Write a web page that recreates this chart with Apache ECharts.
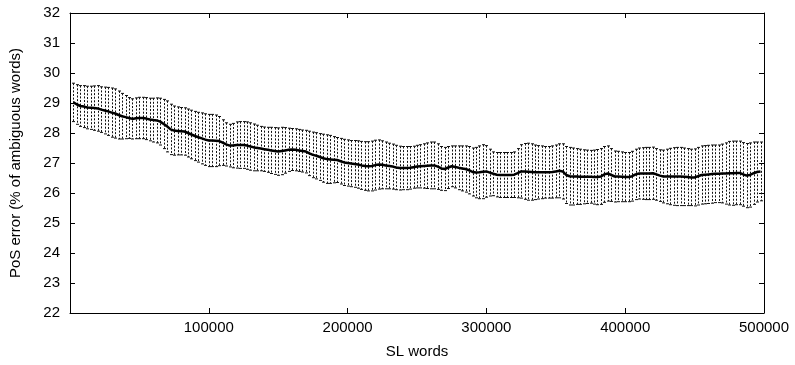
<!DOCTYPE html>
<html>
<head>
<meta charset="utf-8">
<script src="https://cdn.jsdelivr.net/npm/echarts@6/dist/echarts.min.js"></script>
<style>
html,body{margin:0;padding:0;background:#fff;}
#chart{width:795px;height:365px;}
</style>
</head>
<body>
<div id="chart"></div>
<script>
// SL words (x positions of the samples)
const slWords = [
2500,5000,7500,10000,12500,15000,17500,20000,22500,25000,
27500,30000,32500,35000,37500,40000,42500,45000,47500,50000,
52500,55000,57500,60000,62500,65000,67500,70000,72500,75000,
77500,80000,82500,85000,87500,90000,92500,95000,97500,100000,
102500,105000,107500,110000,112500,115000,117500,120000,122500,125000,
127500,130000,132500,135000,137500,140000,142500,145000,147500,150000,
152500,155000,157500,160000,162500,165000,167500,170000,172500,175000,
177500,180000,182500,185000,187500,190000,192500,195000,197500,200000,
202500,205000,207500,210000,212500,215000,217500,220000,222500,225000,
227500,230000,232500,235000,237500,240000,242500,245000,247500,250000,
252500,255000,257500,260000,262500,265000,267500,270000,272500,275000,
277500,280000,282500,285000,287500,290000,292500,295000,297500,300000,
302500,305000,307500,310000,312500,315000,317500,320000,322500,325000,
327500,330000,332500,335000,337500,340000,342500,345000,347500,350000,
352500,355000,357500,360000,362500,365000,367500,370000,372500,375000,
377500,380000,382500,385000,387500,390000,392500,395000,397500,400000,
402500,405000,407500,410000,412500,415000,417500,420000,422500,425000,
427500,430000,432500,435000,437500,440000,442500,445000,447500,450000,
452500,455000,457500,460000,462500,465000,467500,470000,472500,475000,
477500,480000,482500,485000,487500,490000,492500,495000,497500
];

// mean PoS error (%)
const posError = [
29.02,28.95,28.90,28.88,28.85,28.84,28.83,28.82,28.78,28.75,
28.72,28.68,28.65,28.60,28.56,28.53,28.50,28.47,28.49,28.50,
28.50,28.48,28.45,28.43,28.42,28.38,28.30,28.22,28.12,28.08,
28.07,28.06,28.05,28.00,27.95,27.90,27.86,27.82,27.78,27.75,
27.75,27.74,27.73,27.68,27.62,27.58,27.58,27.60,27.60,27.60,
27.58,27.55,27.52,27.50,27.48,27.46,27.44,27.42,27.40,27.38,
27.40,27.42,27.44,27.45,27.44,27.42,27.40,27.38,27.32,27.27,
27.24,27.20,27.16,27.13,27.12,27.11,27.10,27.06,27.02,27.00,
26.98,26.97,26.95,26.92,26.90,26.89,26.90,26.93,26.95,26.94,
26.92,26.90,26.88,26.85,26.83,26.83,26.83,26.84,26.86,26.88,
26.89,26.90,26.91,26.92,26.92,26.88,26.82,26.80,26.85,26.89,
26.87,26.84,26.82,26.80,26.76,26.70,26.68,26.69,26.71,26.72,
26.68,26.64,26.61,26.60,26.60,26.60,26.60,26.61,26.66,26.72,
26.72,26.71,26.70,26.69,26.69,26.69,26.69,26.69,26.70,26.72,
26.74,26.72,26.60,26.56,26.55,26.55,26.54,26.54,26.54,26.54,
26.53,26.53,26.55,26.62,26.65,26.60,26.55,26.55,26.54,26.53,
26.53,26.56,26.62,26.65,26.65,26.65,26.65,26.66,26.62,26.58,
26.55,26.55,26.55,26.55,26.55,26.55,26.54,26.53,26.52,26.52,
26.56,26.60,26.61,26.62,26.63,26.64,26.64,26.65,26.65,26.66,
26.66,26.67,26.67,26.62,26.58,26.60,26.66,26.70,26.72
];

// error bar half-width
const posErrorDev = [
0.64,0.66,0.68,0.70,0.71,0.72,0.74,0.76,0.76,0.78,
0.80,0.82,0.82,0.80,0.76,0.72,0.68,0.67,0.68,0.69,
0.69,0.70,0.71,0.73,0.75,0.78,0.82,0.85,0.84,0.82,
0.80,0.79,0.79,0.80,0.81,0.82,0.83,0.85,0.86,0.87,
0.87,0.86,0.82,0.76,0.72,0.71,0.74,0.77,0.78,0.78,
0.79,0.79,0.78,0.76,0.74,0.74,0.75,0.77,0.78,0.79,
0.79,0.76,0.72,0.70,0.70,0.70,0.70,0.71,0.74,0.76,
0.77,0.78,0.80,0.81,0.80,0.77,0.75,0.76,0.77,0.77,
0.77,0.78,0.79,0.80,0.81,0.82,0.83,0.83,0.82,0.80,
0.78,0.76,0.75,0.74,0.73,0.72,0.72,0.71,0.70,0.71,
0.72,0.74,0.76,0.78,0.78,0.76,0.73,0.72,0.70,0.68,
0.70,0.73,0.75,0.77,0.79,0.80,0.84,0.88,0.90,0.86,
0.78,0.73,0.74,0.75,0.75,0.75,0.75,0.76,0.82,0.89,
0.93,0.95,0.94,0.91,0.89,0.88,0.86,0.86,0.87,0.88,
0.90,0.92,0.95,0.96,0.95,0.93,0.92,0.90,0.89,0.88,
0.90,0.92,0.93,0.93,0.92,0.88,0.85,0.84,0.83,0.82,
0.82,0.83,0.84,0.85,0.86,0.87,0.87,0.87,0.86,0.86,
0.88,0.91,0.94,0.96,0.97,0.97,0.96,0.95,0.94,0.95,
0.96,0.97,0.97,0.97,0.97,0.96,0.96,0.98,1.02,1.06,
1.07,1.06,1.06,1.06,1.07,1.07,1.04,1.00,0.98
];

const xTickLabels = ['', '100000', '200000', '300000', '400000', '500000'];
const yTickLabels = ['22','23','24','25','26','27','28','29','30','31','32'];

const lineData = slWords.map((x, i) => [x, posError[i]]);
const barData = slWords.map((x, i) => [x, +(posError[i] - posErrorDev[i]).toFixed(3), +(posError[i] + posErrorDev[i]).toFixed(3)]);

const FONT = 'Liberation Sans, Arial, Helvetica, sans-serif';
const axisLineStyle = { color: '#000', width: 1 };

const chart = echarts.init(document.getElementById('chart'), null, { renderer: 'canvas' });

const xBase = {
  type: 'value', min: 0, max: 500000, interval: 100000,
  splitLine: { show: false },
  axisLine: { show: true, onZero: false, lineStyle: axisLineStyle },
  axisTick: { show: true, inside: true, length: 5, lineStyle: axisLineStyle }
};
const yBase = {
  type: 'value', min: 22, max: 32, interval: 1,
  splitLine: { show: false },
  axisLine: { show: true, onZero: false, lineStyle: axisLineStyle },
  axisTick: { show: true, inside: true, length: 5, lineStyle: axisLineStyle }
};

chart.setOption({
  animation: false,
  backgroundColor: '#fff',
  grid: { left: 70, right: 31, top: 13, bottom: 52, containLabel: false },
  xAxis: [
    Object.assign({}, xBase, {
      position: 'bottom',
      name: 'SL words', nameLocation: 'middle', nameGap: 31,
      nameTextStyle: { color: '#000', fontSize: 15, fontFamily: FONT },
      axisLabel: {
        color: '#000', fontSize: 15, fontFamily: FONT, margin: 7,
        formatter: (v) => xTickLabels[Math.round(v / 100000)] || ''
      }
    }),
    Object.assign({}, xBase, { position: 'top', axisLabel: { show: false } })
  ],
  yAxis: [
    Object.assign({}, yBase, {
      position: 'left',
      name: 'PoS error (% of ambiguous words)', nameLocation: 'middle', nameGap: 47,
      nameTextStyle: { color: '#000', fontSize: 15, fontFamily: FONT },
      axisLabel: {
        color: '#000', fontSize: 15, fontFamily: FONT, margin: 10,
        formatter: (v) => yTickLabels[Math.round(v - 22)]
      }
    }),
    Object.assign({}, yBase, { position: 'right', axisLabel: { show: false } })
  ],
  series: [
    {
      type: 'custom',
      xAxisIndex: 0, yAxisIndex: 0,
      data: barData,
      encode: { x: 0, y: [1, 2] },
      clip: true,
      z: 2,
      renderItem: function (params, api) {
        const x = api.value(0);
        const top = api.coord([x, api.value(2)]);
        const bot = api.coord([x, api.value(1)]);
        const px = Math.round(top[0]) + 0.5;
        const cap = 1.5;
        const st = { stroke: '#111', lineWidth: 1 };
        return {
          type: 'group',
          children: [
            { type: 'line', shape: { x1: px, y1: top[1], x2: px, y2: bot[1] },
              style: { stroke: '#111', lineWidth: 1, lineDash: [2, 1.6] } },
            { type: 'line', shape: { x1: px - cap, y1: top[1], x2: px + cap, y2: top[1] }, style: st },
            { type: 'line', shape: { x1: px - cap, y1: bot[1], x2: px + cap, y2: bot[1] }, style: st }
          ]
        };
      }
    },
    {
      type: 'line',
      xAxisIndex: 0, yAxisIndex: 0,
      data: lineData,
      showSymbol: false,
      symbol: 'none',
      z: 3,
      lineStyle: { color: '#000', width: 2.5 }
    }
  ]
});
</script>
</body>
</html>
